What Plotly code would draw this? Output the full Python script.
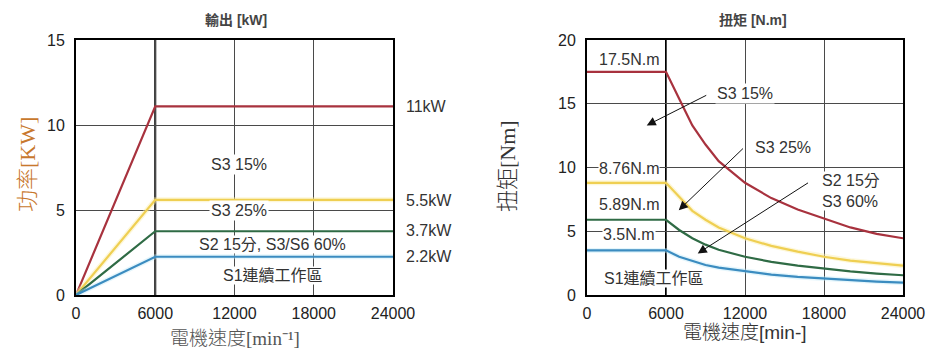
import plotly.graph_objects as go

# ---------------- data ----------------
BASE_SPEED = 6000
SPEED_P = [0, 6000, 24000]
P_S3_15 = [0, 11.1, 11.1]
P_S3_25 = [0, 5.6, 5.6]
P_S2_60 = [0, 3.75, 3.75]
P_S1 = [0, 2.25, 2.25]
P_LABELS = ["11kW", "5.5kW", "3.7kW", "2.2kW"]
P_LABEL_Y = [11.1, 5.55, 3.78, 2.25]

SPEED_T = [0, 6000, 7000, 8000, 9000, 10000, 12000, 14000, 16000, 18000, 20000, 22000, 24000]
T_S3_15 = [17.5, 17.5, 15.4, 13.3, 11.8, 10.5, 8.8, 7.6, 6.7, 6.0, 5.3, 4.8, 4.45]
T_S3_25 = [8.8, 8.8, 7.7, 6.6, 5.9, 5.3, 4.45, 3.85, 3.4, 3.0, 2.7, 2.5, 2.3]
T_S2_60 = [5.9, 5.9, 5.1, 4.45, 3.95, 3.55, 3.0, 2.6, 2.3, 2.05, 1.85, 1.68, 1.55]
T_S1 = [3.5, 3.5, 3.0, 2.65, 2.35, 2.15, 1.85, 1.6, 1.42, 1.28, 1.15, 1.05, 0.97]
T_LABELS = ["17.5N.m", "8.76N.m", "5.89N.m", "3.5N.m"]
T_LABEL_Y = [18.5, 9.9, 7.12, 4.75]

X_TICKS = [0, 6000, 12000, 18000, 24000]
X_TICK_TEXT = ["0", "6000", "12000", "18000", "24000"]

# ---------------- style ----------------
RED = "#a8323e"
YEL = "#efcf52"
GRN = "#2f6b45"
BLU = "#3b8cc0"
SANS = "Liberation Sans, Arial, Noto Sans CJK TC"
SERIF = "Liberation Serif, Noto Sans CJK TC"
W = 952

fig = go.Figure()

def add_curves(xs, series, xa, ya):
    for ys, col, glow in series:
        if glow:
            fig.add_trace(go.Scatter(x=xs, y=ys, mode="lines", xaxis=xa, yaxis=ya,
                                     line=dict(color=glow, width=5), hoverinfo="skip",
                                     showlegend=False))
        fig.add_trace(go.Scatter(x=xs, y=ys, mode="lines", xaxis=xa, yaxis=ya,
                                 line=dict(color=col, width=2.2), showlegend=False))

add_curves(SPEED_P, [(P_S3_15, RED, None), (P_S3_25, YEL, "rgba(250,238,170,0.45)"),
                     (P_S2_60, GRN, None), (P_S1, BLU, "rgba(190,232,248,0.4)")], "x", "y")
add_curves(SPEED_T, [(T_S3_15, RED, None), (T_S3_25, YEL, "rgba(250,238,170,0.45)"),
                     (T_S2_60, GRN, None), (T_S1, BLU, "rgba(190,232,248,0.4)")], "x2", "y2")

axis_common = dict(showline=True, linecolor="black", linewidth=2, mirror=True,
                   showgrid=True, gridcolor="#4a4a4a", gridwidth=1.3, zeroline=False,
                   ticks="", automargin=False,
                   tickfont=dict(family=SANS, size=16, color="#222"))

fig.update_layout(
    width=952, height=354,
    margin=dict(l=0, r=0, t=40, b=59),
    paper_bgcolor="white", plot_bgcolor="white",
    xaxis=dict(domain=[76 / W, 393 / W], range=[0, 24000], tickvals=X_TICKS,
               ticktext=X_TICK_TEXT, anchor="y", ticklabelstandoff=3, **axis_common),
    yaxis=dict(domain=[0, 1], range=[0, 15], dtick=5, anchor="x",
               ticklabelstandoff=6, **axis_common),
    xaxis2=dict(domain=[587 / W, 903 / W], range=[0, 24000], tickvals=X_TICKS,
                ticktext=X_TICK_TEXT, anchor="y2", ticklabelstandoff=3, **axis_common),
    yaxis2=dict(domain=[0, 1], range=[0, 20], dtick=5, anchor="x2",
                ticklabelstandoff=6, **axis_common),
)

for xa, ya in [("x", "y domain"), ("x2", "y2 domain")]:
    fig.add_shape(type="line", x0=BASE_SPEED, x1=BASE_SPEED, y0=0, y1=1, xref=xa, yref=ya,
                  line=dict(color="black", width=2), layer="below")

ann = []
txt = dict(family=SANS, size=16, color="#333")

# left plot labels
ann += [
    dict(x=12340, y=7.65, xref="x", yref="y", text="S3 15%", showarrow=False, font=txt,
         bgcolor="white", borderpad=1),
    dict(x=12340, y=4.95, xref="x", yref="y", text="S3 25%", showarrow=False, font=txt,
         bgcolor="white", borderpad=1),
    dict(x=14900, y=3.0, xref="x", yref="y", text="S2 15分, S3/S6 60%", showarrow=False,
         font=txt, bgcolor="white", borderpad=0),
    dict(x=14900, y=1.12, xref="x", yref="y", text="S1連續工作區", showarrow=False,
         font=txt, bgcolor="white", borderpad=0),
]
for lab, yv in zip(P_LABELS, P_LABEL_Y):
    ann.append(dict(x=404 / W, y=yv, xref="paper", yref="y", text=lab, showarrow=False,
                    xanchor="left", yanchor="middle", font=txt))

# right plot labels
for lab, yv in zip(T_LABELS, T_LABEL_Y):
    ann.append(dict(x=3190, y=yv, xref="x2", yref="y2", text=lab, showarrow=False,
                    font=txt, bgcolor="white", borderpad=0))
ann += [
    dict(x=5090, y=1.3, xref="x2", yref="y2", text="S1連續工作區", showarrow=False,
         font=txt, bgcolor="white", borderpad=0),
    dict(x=12000, y=15.83, xref="x2", yref="y2", text="S3 15%", showarrow=False, font=txt,
         bgcolor="white", borderpad=1),
    dict(x=14890, y=11.6, xref="x2", yref="y2", text="S3 25%", showarrow=False, font=txt,
         bgcolor="white", borderpad=1),
    dict(x=17770, y=8.17, xref="x2", yref="y2", text="S2 15分<br>S3 60%", showarrow=False,
         font=txt, xanchor="left", align="left", bgcolor="white", borderpad=0),
]
# arrows (head at x,y ; tail at ax,ay)
for hx, hy, tx, ty in [(4536, 13.3, 9170, 15.72), (6970, 6.65, 11960, 11.6),
                       (8410, 3.26, 16900, 8.87)]:
    ann.append(dict(x=hx, y=hy, ax=tx, ay=ty, xref="x2", yref="y2", axref="x2", ayref="y2",
                    text="", showarrow=True, arrowhead=2, arrowsize=1.8, arrowwidth=1,
                    arrowcolor="#111", standoff=0, startstandoff=0))

# titles
def paper_text(px, py, text, font, angle=0):
    return dict(x=px / W, y=(295 - py) / 255, xref="paper", yref="paper", text=text,
                showarrow=False, xanchor="center", yanchor="middle", textangle=angle,
                font=font)

ann += [
    paper_text(236, 20, "<b>輸出 [kW]</b>", dict(family=SANS, size=14, color="#444")),
    paper_text(753, 20, "<b>扭矩 [N.m]</b>", dict(family=SANS, size=14, color="#444")),
    paper_text(235, 338, "電機速度[min⁻¹]",
               dict(family=SERIF, size=19, color="#555", weight=300)),
    paper_text(745, 332, "電機速度<span style='font-family:Liberation Sans'>[min-]</span>",
               dict(family=SERIF, size=19, color="#333", weight=300)),
    paper_text(27, 165, "功率[KW]",
               dict(family=SERIF, size=22, color="#c8782d", weight=300), -90),
    paper_text(507, 166, "扭矩[Nm]",
               dict(family=SERIF, size=22, color="#333", weight=300), -90),
]
fig.update_layout(annotations=ann)

fig.write_html("out.html")
